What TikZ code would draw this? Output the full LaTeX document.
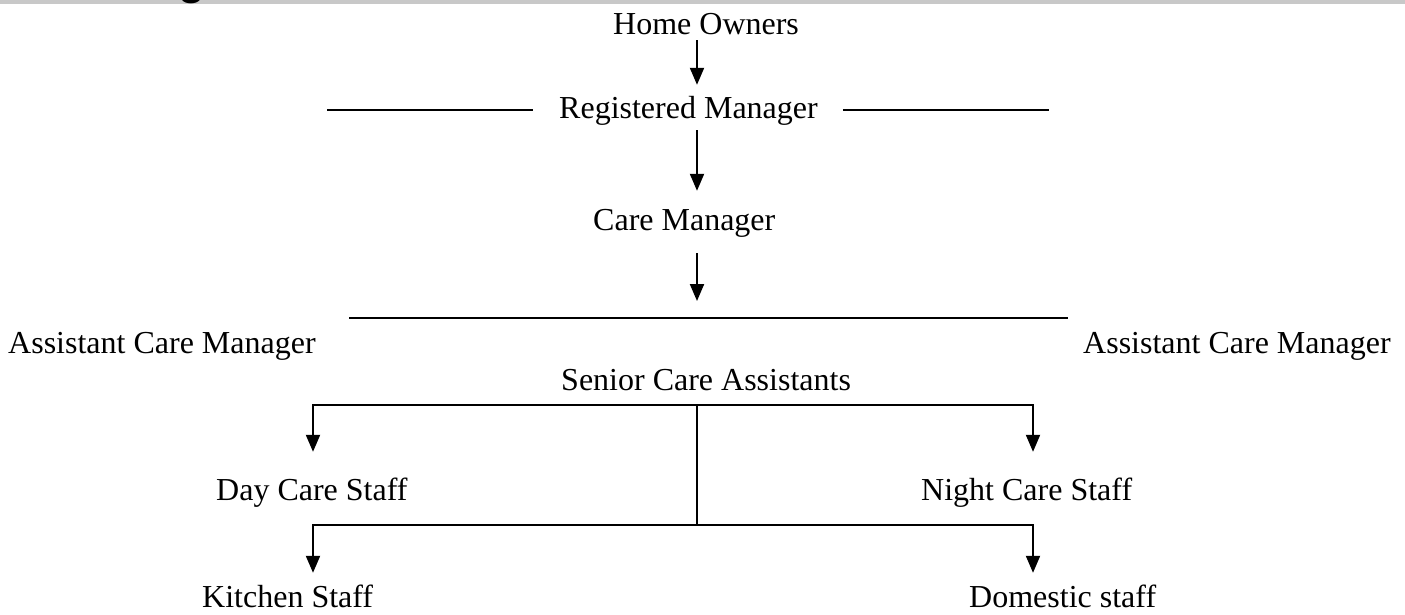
\documentclass[tikz,border=0pt]{standalone}
\usepackage{fontspec}
\setmainfont{Liberation Serif}
\newfontfamily\headfont{Liberation Sans}
\usetikzlibrary{arrows.meta}
\definecolor{barcol}{RGB}{200,200,200}
\begin{document}
\begin{tikzpicture}[x=1pt,y=-1pt,
  lbl/.style={font=\fontsize{32}{38}\selectfont, inner sep=0pt, text height=22pt, text depth=7pt, anchor=base west},
  lowlbl/.style={lbl, text depth=0pt},
  arr/.style={line width=2pt, -{Triangle[length=17pt,width=14pt]}},
  ln/.style={line width=2pt},
  thinln/.style={line width=1.6pt},
  thickln/.style={line width=2.6pt}]
\useasboundingbox (0,0) rectangle (1405,614);
\fill[barcol] (0,0) rectangle (1405,3.5);
\begin{scope}
\clip (0,0) rectangle (1405,3.5);
\node[font=\headfont\bfseries\fontsize{44}{50}\selectfont, anchor=base west, inner sep=0pt] (hg) at (178,-6) {g};
\end{scope}

\node[lbl] (ho) at (613,34) {Home Owners};
\node[lbl] (rm) at (559,118) {Registered Manager};
\node[lbl] (cm) at (593,230) {Care Manager};
\node[lbl] (acl) at (8,353) {Assistant Care Manager};
\node[lbl] (acr) at (1083,353) {Assistant Care Manager};
\node[lbl] (sca) at (561,390) {Senior Care Assistants};
\node[lbl] (dcs) at (216,500) {Day Care Staff};
\node[lbl] (ncs) at (921,500) {Night Care Staff};
\node[lowlbl] (ks) at (202,607) {Kitchen Staff};
\node[lowlbl] (ds) at (969,607) {Domestic staff};

\coordinate (spine) at (697,0);
\coordinate (rlL) at (327,110);
\coordinate (rlR) at (1049,110);
\coordinate (hlL) at (349,318);
\coordinate (hlR) at (1068,318);
\coordinate (hlC) at (697,318);
\coordinate (b1) at (697,405);
\coordinate (b2) at (697,525);
\coordinate (xl) at (313,0);
\coordinate (xr) at (1033,0);

\draw[arr, shorten <=-1pt, shorten >=11pt] (ho.south -| spine) -- (rm.north -| spine);
\draw[arr, shorten <=5pt, shorten >=17pt] (rm.south -| spine) -- (cm.north -| spine);
\draw[arr, shorten <=16pt, shorten >=17pt] (cm.south -| spine) -- (hlC);
\draw[thinln, shorten >=26pt] (rlL) -- (rm.west |- rlL);
\draw[thinln, shorten <=25pt] (rm.east |- rlR) -- (rlR);
\draw[thickln] (hlL) -- (hlR);
\draw[arr, shorten >=26pt] (b1) -| (dcs.north -| xl);
\draw[arr, shorten >=26pt] (b1) -| (ncs.north -| xr);
\draw[ln] (b1) -- (b2);
\draw[arr, shorten >=12pt] (b2) -| (ks.north -| xl);
\draw[arr, shorten >=12pt] (b2) -| (ds.north -| xr);
\end{tikzpicture}
\end{document}
